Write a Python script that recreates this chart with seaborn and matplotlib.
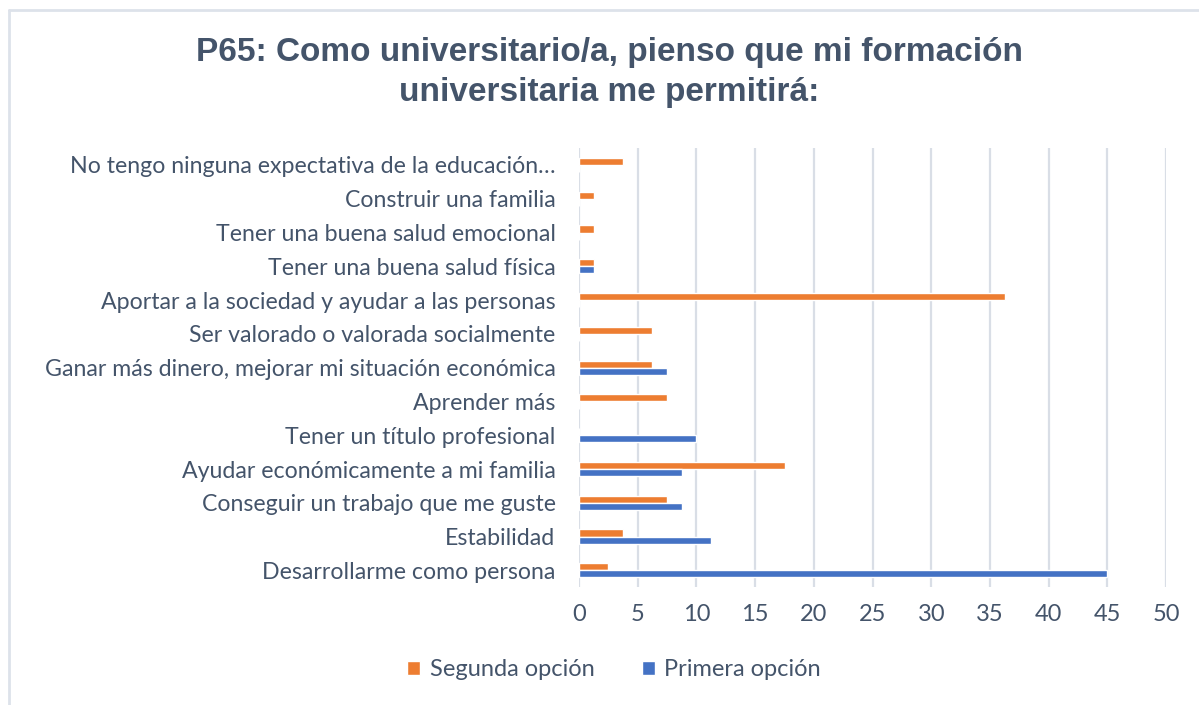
import pandas as pd
import numpy as np
import matplotlib
matplotlib.use("Agg")
import matplotlib.pyplot as plt
import seaborn as sns

# data (percentages, top to bottom)
categorias = [
    "No tengo ninguna expectativa de la educación…",
    "Construir una familia",
    "Tener una buena salud emocional",
    "Tener una buena salud física",
    "Aportar a la sociedad y ayudar a las personas",
    "Ser valorado o valorada socialmente",
    "Ganar más dinero, mejorar mi situación económica",
    "Aprender más",
    "Tener un título profesional",
    "Ayudar económicamente a mi familia",
    "Conseguir un trabajo que me guste",
    "Estabilidad",
    "Desarrollarme como persona",
]
segunda = [3.75, 1.25, 1.25, 1.25, 36.25, 6.25, 6.25, 7.5, 0, 17.5, 7.5, 3.75, 2.5]
primera = [0, 0, 0, 1.25, 0, 0, 7.5, 0, 10, 8.75, 8.75, 11.25, 45]
series = ["Segunda opción", "Primera opción"]
colores = ["#ED7D31", "#4472C4"]
xticks = np.arange(0, 55, 5)

df = pd.DataFrame({
    "categoria": categorias * 2,
    "valor": segunda + primera,
    "serie": [series[0]] * len(categorias) + [series[1]] * len(categorias),
})

sns.set_style("white")
plt.rcParams["font.family"] = ["Lato", "DejaVu Sans"]
txt = "#44546A"

fig = plt.figure(figsize=(11.99, 7.05), dpi=100)
ax = fig.add_axes([0.483, 0.167, 0.4895, 0.623])

sns.barplot(data=df, y="categoria", x="valor", hue="serie", order=categorias,
            hue_order=series, palette=colores, orient="h", width=0.42,
            saturation=1, ax=ax)

ax.set_xlim(0, 50)
ax.set_xticks(xticks)
ax.set_xlabel("")
ax.set_ylabel("")
ax.grid(axis="x", color="#D9DEE6", linewidth=1.6)
ax.set_axisbelow(True)
for s in ax.spines.values():
    s.set_visible(False)
ax.tick_params(axis="y", length=0, labelsize=16.7, colors=txt, pad=17)
ax.tick_params(axis="x", length=0, labelsize=17, colors=txt, pad=12)

ax.legend(loc="center", bbox_to_anchor=(0.512, 0.05), bbox_transform=fig.transFigure,
          ncol=2, frameon=False, fontsize=17, handlelength=0.55, handleheight=0.55,
          columnspacing=2.0, handletextpad=0.4, labelcolor=txt)

fig.text(0.508, 0.897, "P65: Como universitario/a, pienso que mi formación\nuniversitaria me permitirá:",
         ha="center", va="center", fontsize=24, fontweight="bold", color=txt,
         family="Liberation Sans", linespacing=1.4)

# chart border (left and top visible)
fig.add_artist(plt.Line2D([0.0075, 0.0075], [0.0, 0.986], color="#DDE2EA", linewidth=2,
                          transform=fig.transFigure))
fig.add_artist(plt.Line2D([0.0075, 1.0], [0.986, 0.986], color="#DDE2EA", linewidth=2,
                          transform=fig.transFigure))

fig.savefig("out.png", dpi=100, facecolor="white")
